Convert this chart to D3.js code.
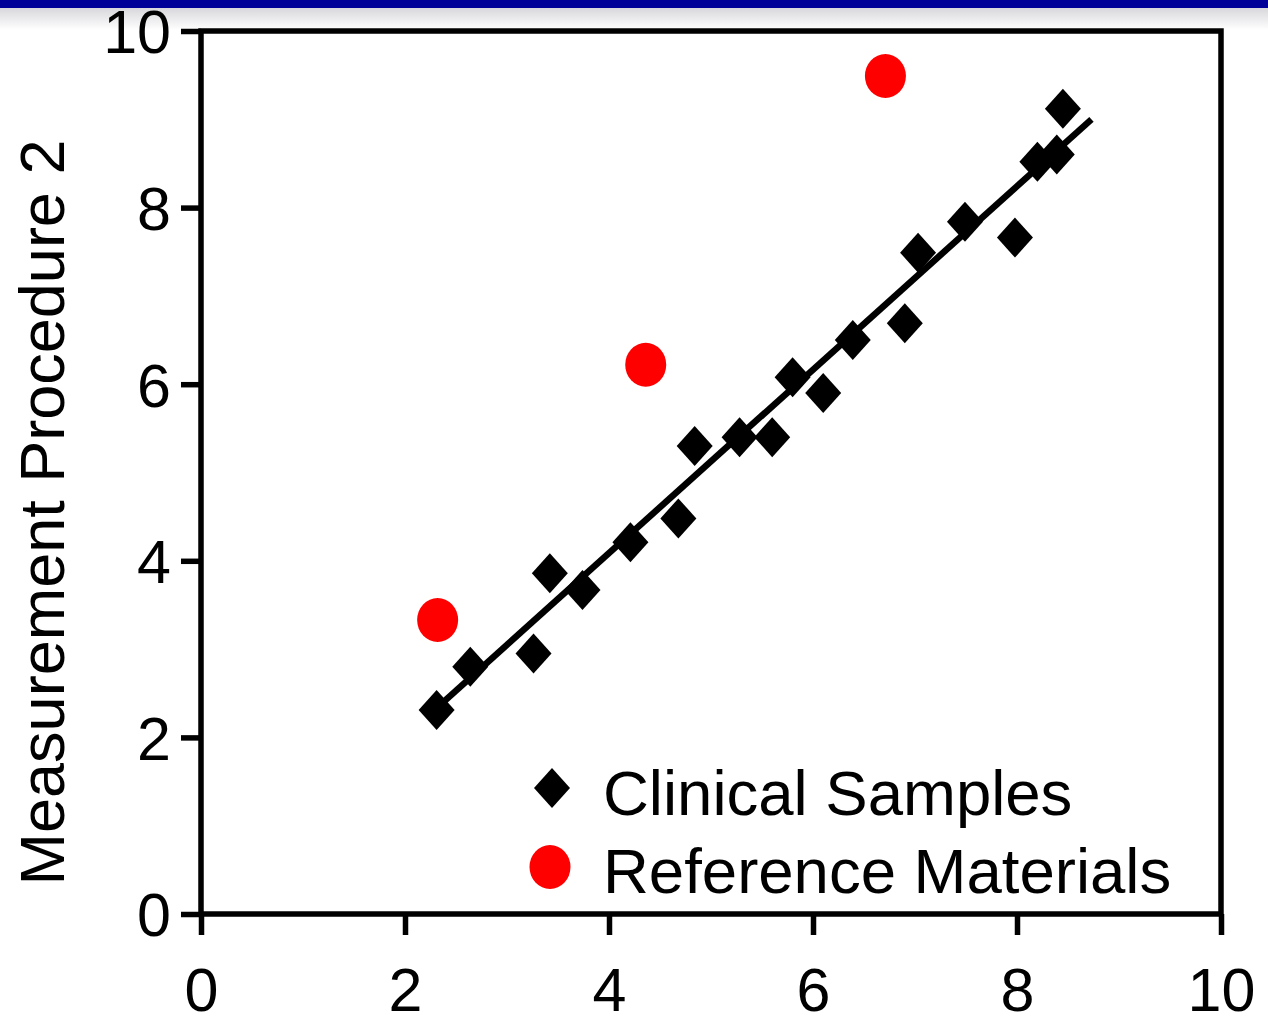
<!DOCTYPE html>
<meta charset="utf-8">
<style>
body { margin: 0; background: #fff; }
text { font-family: 'Liberation Sans', Arial, sans-serif; }
</style>
<body>
<div id="chart"></div>
<script src="https://d3js.org/d3.v7.min.js"></script>
<script>
// clinical samples (diamonds)
var clinicalX = [2.31, 2.64, 3.26, 3.42, 3.74, 4.21, 4.68, 4.84, 5.28, 5.60, 5.80, 6.10, 6.39, 6.90, 7.03, 7.49, 7.98, 8.20, 8.39, 8.45]
var clinicalY = [2.31, 2.80, 2.95, 3.86, 3.67, 4.21, 4.48, 5.30, 5.40, 5.40, 6.08, 5.90, 6.50, 6.69, 7.49, 7.84, 7.66, 8.52, 8.60, 9.12]

// reference materials (red circles)
var refX = [2.32, 4.36, 6.71]
var refY = [3.33, 6.22, 9.49]

// fitted line end points
var fitX = [2.25, 8.73]
var fitY = [2.27, 9.00]

var ticks = [0, 2, 4, 6, 8, 10]
var yTitle = 'Measurement Procedure 2'
var legendLabels = ['Clinical Samples', 'Reference Materials']

var width = 1268
var height = 1019
var margin = { top: 31, right: 47, bottom: 105, left: 201 }

var x = d3.scaleLinear().domain([0, 10]).range([margin.left, width - margin.right])
var y = d3.scaleLinear().domain([0, 10]).range([height - margin.bottom, margin.top])

var svg = d3.select('#chart')
    .append('svg')
    .attr('width', width)
    .attr('height', height)

// header band
var defs = svg.append('defs')
var grad = defs.append('linearGradient')
    .attr('id', 'fade')
    .attr('x1', 0).attr('y1', 0).attr('x2', 0).attr('y2', 1)
grad.append('stop').attr('offset', 0).attr('stop-color', '#d8d8dc')
grad.append('stop').attr('offset', 1).attr('stop-color', '#ffffff')

svg.append('rect')
    .attr('x', 0).attr('y', 8)
    .attr('width', width).attr('height', 22)
    .style('fill', 'url(#fade)')
svg.append('rect')
    .attr('x', 0).attr('y', 0)
    .attr('width', width).attr('height', 8)
    .style('fill', '#000099')

// frame
svg.append('rect')
    .attr('x', x(0))
    .attr('y', y(10))
    .attr('width', x(10) - x(0))
    .attr('height', y(0) - y(10))
    .style('fill', 'none')
    .style('stroke', '#000')
    .style('stroke-width', 5.5)

var xAxis = d3.axisBottom(x)
    .tickValues(ticks)
    .tickSize(21)
    .tickSizeOuter(0)
    .tickPadding(33)
    .tickFormat(d3.format('d'))
var yAxis = d3.axisLeft(y)
    .tickValues(ticks)
    .tickSize(20)
    .tickSizeOuter(0)
    .tickPadding(10)
    .tickFormat(d3.format('d'))

var gx = svg.append('g')
    .attr('transform', 'translate(0,' + y(0) + ')')
    .call(xAxis)
var gy = svg.append('g')
    .attr('transform', 'translate(' + x(0) + ',0)')
    .call(yAxis)

;[gx, gy].forEach(function (g) {
    g.select('.domain').remove()
    g.selectAll('.tick line').style('stroke', '#000').style('stroke-width', 5.5)
    g.selectAll('.tick text')
        .style('fill', '#000')
        .style('font-size', '61px')
        .style('font-family', "'Liberation Sans', Arial, sans-serif")
})
gy.selectAll('.tick text').attr('dy', '0.36em')

svg.append('text')
    .attr('transform', 'translate(64,' + ((y(0) + y(10)) / 2 + 40) + ') rotate(-90)')
    .style('text-anchor', 'middle')
    .style('font-size', '63px')
    .style('fill', '#000')
    .text(yTitle)

// fitted line
svg.append('line')
    .attr('x1', x(fitX[0])).attr('y1', y(fitY[0]))
    .attr('x2', x(fitX[1])).attr('y2', y(fitY[1]))
    .style('stroke', '#000')
    .style('stroke-width', 6.5)

function diamond(cx, cy) {
    return 'M' + cx + ',' + (cy - 20) +
        'L' + (cx + 18) + ',' + cy +
        'L' + cx + ',' + (cy + 20) +
        'L' + (cx - 18) + ',' + cy + 'Z'
}

svg.append('g').selectAll('path')
    .data(d3.range(clinicalX.length))
    .enter()
    .append('path')
    .attr('d', function (i) { return diamond(x(clinicalX[i]), y(clinicalY[i])) })
    .style('fill', '#000')

svg.append('g').selectAll('ellipse')
    .data(d3.range(refX.length))
    .enter()
    .append('ellipse')
    .attr('cx', function (i) { return x(refX[i]) })
    .attr('cy', function (i) { return y(refY[i]) })
    .attr('rx', 20.5)
    .attr('ry', 22)
    .style('fill', '#ff0000')

// legend
var legend = svg.append('g')
legend.append('path')
    .attr('d', diamond(552, 788))
    .style('fill', '#000')
legend.append('ellipse')
    .attr('cx', 550).attr('cy', 867)
    .attr('rx', 20.5).attr('ry', 22)
    .style('fill', '#ff0000')
legend.selectAll('text')
    .data(legendLabels)
    .enter()
    .append('text')
    .attr('x', 603)
    .attr('y', function (d, i) { return 815 + i * 78 })
    .style('font-size', '63.5px')
    .style('fill', '#000')
    .text(function (d) { return d })
</script>
</body>
